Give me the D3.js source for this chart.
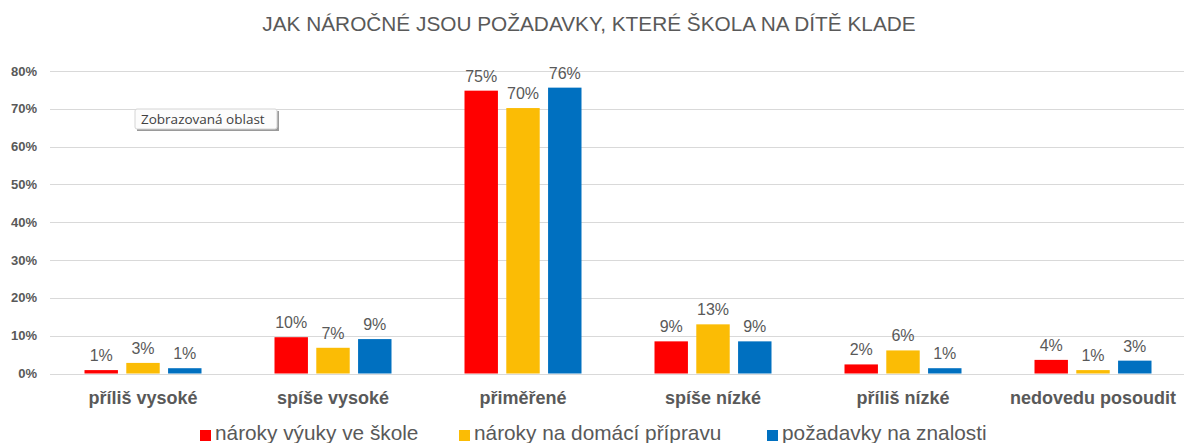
<!DOCTYPE html>
<html>
<head>
<meta charset="utf-8">
<script src="https://cdn.jsdelivr.net/npm/d3@7"></script>
<style>
  body { margin: 0; background: #fff; }
  svg { display: block; font-family: "Liberation Sans", Arial, sans-serif; }
</style>
</head>
<body>
<div id="chart"></div>
<script>
/* Bar chart: how demanding are the school requirements */

const categories = ["příliš vysoké", "spíše vysoké", "přiměřené", "spíše nízké", "příliš nízké", "nedovedu posoudit"];
const seriesNames = ["nároky výuky ve škole", "nároky na domácí přípravu", "požadavky na znalosti"];
const seriesColors = ["#ff0000", "#fbbc05", "#0070c0"];
const vyuka = [0.9, 9.6, 74.8, 8.5, 2.4, 3.6];
const priprava = [2.8, 6.8, 70.2, 13.0, 6.1, 0.9];
const znalosti = [1.4, 9.1, 75.6, 8.5, 1.4, 3.4];
const yTicks = [0, 10, 20, 30, 40, 50, 60, 70, 80];

const width = 1184,
    height = 443,
    margin = ({ top: 71, right: -4, bottom: 70, left: 48 });

const svg = d3.select("#chart")
    .append("svg")
    .attr("width", width)
    .attr("height", height);

const series = [vyuka, priprava, znalosti];

let x = d3.scaleBand()
    .domain(categories)
    .range([margin.left, width - margin.right]);

let x1 = d3.scaleBand()
    .domain([0, 1, 2])
    .range([0, 117])
    .paddingInner(0.2);

let y = d3.scaleLinear()
    .domain([0, 80])
    .range([373.5, margin.top]);

// title
svg.append("text")
    .attr("x", 589)
    .attr("y", 31)
    .attr("text-anchor", "middle")
    .attr("fill", "#595959")
    .style("font-size", "20.8px")
    .text("JAK NÁROČNÉ JSOU POŽADAVKY, KTERÉ ŠKOLA NA DÍTĚ KLADE");

// gridlines
svg.append("g")
    .selectAll("line")
    .data(yTicks)
    .join("line")
    .attr("x1", 50)
    .attr("x2", width)
    .attr("y1", d => Math.round(y(d)) + 0.5)
    .attr("y2", d => Math.round(y(d)) + 0.5)
    .attr("stroke", "#d9d9d9")
    .attr("stroke-width", 1);

// y axis labels
svg.append("g")
    .selectAll("text")
    .data(yTicks)
    .join("text")
    .attr("x", 37)
    .attr("y", d => y(d))
    .attr("dy", "0.35em")
    .attr("text-anchor", "end")
    .attr("fill", "#595959")
    .style("font-size", "13px")
    .style("font-weight", "bold")
    .text(d => d + "%");

// bars
const groups = svg.append("g")
    .selectAll("g")
    .data(categories)
    .join("g")
    .attr("transform", d => `translate(${x(d) + x.bandwidth() / 2 - 58.5},0)`);

groups.selectAll("rect")
    .data((d, i) => series.map((s, j) => ({ j, v: s[i] })))
    .join("rect")
    .attr("x", d => x1(d.j))
    .attr("width", x1.bandwidth())
    .attr("y", d => y(d.v))
    .attr("height", d => y(0) - y(d.v))
    .attr("fill", d => seriesColors[d.j]);

groups.selectAll("text")
    .data((d, i) => series.map((s, j) => ({ j, v: s[i] })))
    .join("text")
    .attr("x", d => x1(d.j) + x1.bandwidth() / 2)
    .attr("y", d => y(d.v) - 9)
    .attr("text-anchor", "middle")
    .attr("fill", "#595959")
    .style("font-size", "16px")
    .text(d => Math.round(d.v) + "%");

// category labels
svg.append("g")
    .selectAll("text")
    .data(categories)
    .join("text")
    .attr("x", d => x(d) + x.bandwidth() / 2)
    .attr("y", 404)
    .attr("text-anchor", "middle")
    .attr("fill", "#595959")
    .style("font-size", "18px")
    .style("font-weight", "bold")
    .text(d => d);

// legend
const legendX = [200, 459, 767];
const legend = svg.append("g")
    .selectAll("g")
    .data(seriesNames)
    .join("g")
    .attr("transform", (d, i) => `translate(${legendX[i]},0)`);

legend.append("rect")
    .attr("x", 0)
    .attr("y", 430)
    .attr("width", 11)
    .attr("height", 11)
    .attr("fill", (d, i) => seriesColors[i]);

legend.append("text")
    .attr("x", 15)
    .attr("y", 440)
    .attr("fill", "#595959")
    .style("font-size", "20.8px")
    .text(d => d);

// tooltip left from the spreadsheet
const tip = svg.append("g").attr("transform", "translate(135,109)");
tip.append("rect")
    .attr("x", 2).attr("y", 2)
    .attr("width", 142).attr("height", 20)
    .attr("fill", "#9a9a9a");
tip.append("rect")
    .attr("width", 142).attr("height", 20)
    .attr("rx", 2)
    .attr("fill", "#fcfcfc")
    .attr("stroke", "#d4d4d4");
tip.append("text")
    .attr("x", 6).attr("y", 15)
    .attr("fill", "#404040")
    .style("font-family", "'Open Sans', sans-serif")
    .style("font-size", "13.5px")
    .text("Zobrazovaná oblast");
</script>
</body>
</html>
